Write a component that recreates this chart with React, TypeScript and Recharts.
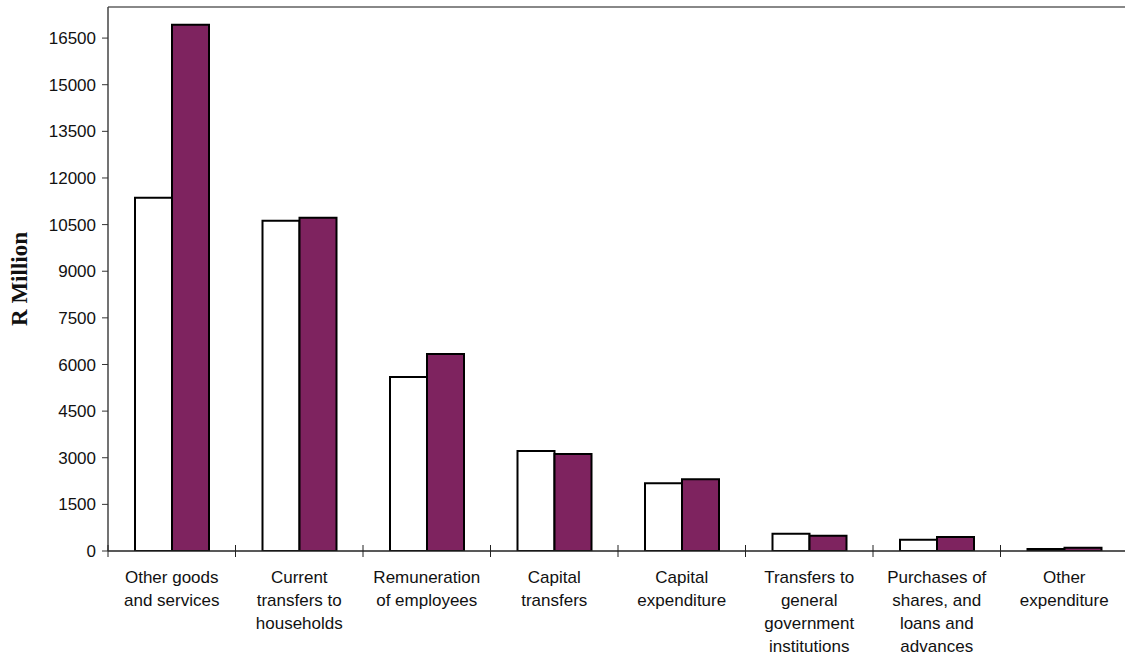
import React from 'react';
import { BarChart, Bar, XAxis, YAxis, ReferenceLine } from 'recharts';

// Expenditure by economic classification, R million
const categories = [
    'Other goods\nand services',
    'Current\ntransfers to\nhouseholds',
    'Remuneration\nof employees',
    'Capital\ntransfers',
    'Capital\nexpenditure',
    'Transfers to\ngeneral\ngovernment\ninstitutions',
    'Purchases of\nshares, and\nloans and\nadvances',
    'Other\nexpenditure',
];
const previousYear = [11360, 10620, 5600, 3220, 2180, 557, 364, 64];
const currentYear = [16930, 10720, 6340, 3120, 2310, 493, 451, 107];
const yTicks = [0, 1500, 3000, 4500, 6000, 7500, 9000, 10500, 12000, 13500, 15000, 16500];

const data = categories.map((name, i) => ({
    name,
    previous: previousYear[i],
    current: currentYear[i],
}));

const CHART_W = 1140;
const CHART_H = 659;
const MARGIN = { top: 7, right: 12, bottom: 8, left: 0 };
const Y_AXIS_W = 108;
const BAND = (CHART_W - MARGIN.left - MARGIN.right - Y_AXIS_W) / categories.length;

const FONT = '"Liberation Sans", Arial, sans-serif';

const CategoryTick = (props: any) => {
    const { x, y, payload, index } = props;
    const lines = String(payload.value).split('\n');
    return (
        <g>
            {/* tick marks sit between categories, crossing the axis */}
            <line x1={x + BAND / 2} x2={x + BAND / 2} y1={y - 6} y2={y + 6} stroke="#222" strokeWidth={1} />
            {index === 0 && (
                <line x1={x - BAND / 2} x2={x - BAND / 2} y1={y - 6} y2={y + 6} stroke="#222" strokeWidth={1} />
            )}
            <text x={x} y={y + 32} textAnchor="middle" fill="#111" fontSize={17} fontFamily={FONT}>
                {lines.map((line, i) => (
                    <tspan key={i} x={x} dy={i === 0 ? 0 : 23}>{line}</tspan>
                ))}
            </text>
        </g>
    );
};

export default function App() {
    return (
        <div style={{ position: 'absolute', left: 0, top: 0, width: 1125, height: 659, overflow: 'hidden', background: '#fff' }}>
            <BarChart width={CHART_W} height={CHART_H} data={data} margin={MARGIN} barGap={0} barSize={37}>
                <XAxis
                    dataKey="name"
                    interval={0}
                    height={100}
                    axisLine={{ stroke: '#222', strokeWidth: 1.5 }}
                    tickLine={false}
                    tickSize={0}
                    tickMargin={0}
                    tick={<CategoryTick />}
                />
                <YAxis
                    width={Y_AXIS_W}
                    domain={[0, 17500]}
                    ticks={yTicks}
                    interval={0}
                    allowDataOverflow
                    axisLine={{ stroke: '#444', strokeWidth: 1.5 }}
                    tickLine={{ stroke: '#333' }}
                    tickSize={6}
                    tickMargin={6}
                    tick={{ fill: '#111', fontSize: 17, fontFamily: FONT }}
                    label={{
                        value: 'R Million',
                        angle: -90,
                        position: 'insideLeft',
                        dx: 14,
                        style: { fontFamily: '"Liberation Serif", "Times New Roman", serif', fontWeight: 700, fontSize: 23, fill: '#111', textAnchor: 'middle' },
                    }}
                />
                <ReferenceLine y={17500} stroke="#888" strokeWidth={2} />
                <Bar dataKey="previous" name="Previous year" fill="#ffffff" stroke="#000" strokeWidth={2} isAnimationActive={false} />
                <Bar dataKey="current" name="Current year" fill="#7e235f" stroke="#000" strokeWidth={2} isAnimationActive={false} />
            </BarChart>
        </div>
    );
}
